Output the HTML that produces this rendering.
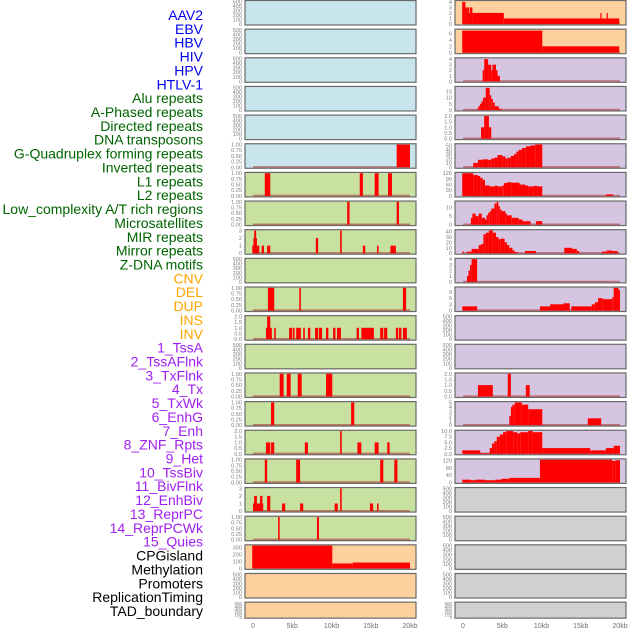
<!DOCTYPE html>
<html><head><meta charset="utf-8"><style>
html,body{margin:0;padding:0;background:#fff;}
svg{display:block;font-family:"Liberation Sans",sans-serif;}
</style></head><body>
<svg id="chart" width="630" height="630" viewBox="0 0 630 630" xmlns="http://www.w3.org/2000/svg"></svg>
<script>
// ---- data ----
const trackLabels = ["AAV2","EBV","HBV","HIV","HPV","HTLV-1","Alu repeats","A-Phased repeats","Directed repeats","DNA transposons","G-Quadruplex forming repeats","Inverted repeats","L1 repeats","L2 repeats","Low_complexity A/T rich regions","Microsatellites","MIR repeats","Mirror repeats","Z-DNA motifs","CNV","DEL","DUP","INS","INV","1_TssA","2_TssAFlnk","3_TxFlnk","4_Tx","5_TxWk","6_EnhG","7_Enh","8_ZNF_Rpts","9_Het","10_TssBiv","11_BivFlnk","12_EnhBiv","13_ReprPC","14_ReprPCWk","15_Quies","CPGisland","Methylation","Promoters","ReplicationTiming","TAD_boundary"];
const labelColors = ["#0000ee","#0000ee","#0000ee","#0000ee","#0000ee","#0000ee","#006400","#006400","#006400","#006400","#006400","#006400","#006400","#006400","#006400","#006400","#006400","#006400","#006400","#ffa500","#ffa500","#ffa500","#ffa500","#ffa500","#a020f0","#a020f0","#a020f0","#a020f0","#a020f0","#a020f0","#a020f0","#a020f0","#a020f0","#a020f0","#a020f0","#a020f0","#a020f0","#a020f0","#a020f0","#000","#000","#000","#000","#000"];
const xTicks = [0,5,10,15,20];
const xTickLabels = ["0","5kb","10kb","15kb","20kb"];

// left column segments [startKb, endKb, value]
const L5 = [[18.3,20.0,1]];
const L6 = [[1.5,2.2,1],[13.6,14.0,1],[15.5,16.0,1],[17.2,17.7,1]];
const L7 = [[12.0,12.3,1],[18.3,18.6,1]];
const L8 = [[-0.1,0.8,1],[0.05,0.5,2],[0.15,0.4,3],[1.1,1.4,1],[1.8,2.2,1],[8.0,8.3,2],[11.1,11.3,3],[14.0,14.3,1],[15.8,16.0,1],[17.5,18.2,1]];
const L10 = [[1.9,2.7,1],[5.9,6.1,1],[19.1,19.5,1]];
const L11 = [[1.65,2.4,1],[1.8,2.2,2],[2.7,2.9,1],[4.6,5.0,1],[5.1,5.3,1],[5.5,6.1,1],[6.4,6.6,1],[7.0,7.3,1],[7.9,8.3,1],[8.4,8.8,1],[9.3,9.6,1],[10.2,10.5,1],[10.7,11.2,1],[13.2,13.5,1],[13.8,15.4,1],[16.2,16.6,1],[16.7,17.1,1],[18.2,18.5,1],[18.6,18.9,1],[19.1,19.6,1]];
const L13 = [[3.4,3.9,1],[4.3,4.8,1],[5.7,6.2,1],[9.3,10.1,1]];
const L14 = [[2.3,2.7,1],[12.5,12.9,1]];
const L15 = [[1.65,2.2,1],[2.3,2.7,1],[6.6,7.0,1],[11.1,11.3,2],[13.3,13.8,1],[15.5,16.0,1],[17.1,17.4,1]];
const L16 = [[1.5,1.8,1],[5.5,6.0,1],[16.2,16.6,1],[18.0,18.4,1]];
const L17 = [[0,1.3,1],[0.15,0.5,2],[0.9,1.2,2],[1.8,2.2,2],[3.7,4.1,1],[6.0,6.4,1],[10.4,10.8,1],[11.1,11.3,3],[14.9,15.3,1],[15.8,16.0,1]];
const L18 = [[3.2,3.4,1],[8.15,8.4,1]];
const L19 = [[-0.1,10.1,325],[10.1,12.7,70],[12.7,20.0,83]];

// right column segments
const R0 = [[-0.1,0.3,4],[0.3,0.6,3],[0.6,0.9,2],[0.6,0.8,3],[0.9,1.2,3],[1.2,5.2,2],[5.2,19.9,1],[17.5,17.65,2],[18.3,18.45,2]];
const R1 = [[-0.1,10.1,7],[10.1,19.9,2]];
const R2 = [[2.5,2.7,2],[2.7,3.2,4],[3.2,3.6,3],[3.6,3.75,2],[3.75,4.2,3],[4.2,4.4,2],[4.4,4.7,1]];
const R3 = [[1.8,1.95,1],[1.95,2.15,3],[2.15,2.35,5],[2.35,2.55,7],[2.55,2.9,10],[2.9,3.4,18],[3.4,3.6,12],[3.6,3.8,9],[3.8,4.05,6],[4.05,4.55,3],[4.55,4.9,1]];
const R4 = [[2.3,2.7,1],[2.7,3.3,2],[3.3,3.6,1]];
const R5 = [[1.3,1.9,10],[1.9,2.5,17],[2.5,3.2,18],[3.2,3.6,17],[3.6,4.0,20],[4.0,4.4,22],[4.4,5.0,28],[5.0,5.4,25],[5.4,5.7,20],[5.7,6.1,22],[6.1,6.5,26],[6.5,6.8,30],[6.8,7.1,36],[7.1,7.5,40],[7.5,8.0,44],[8.0,8.6,48],[8.6,9.2,50],[9.2,10.1,52]];
const R6 = [[-0.1,1.3,120],[1.3,1.9,110],[1.9,2.2,105],[2.2,2.5,95],[2.5,2.8,85],[2.8,3.4,55],[3.4,4.0,50],[4.0,4.5,53],[4.5,5.0,50],[5.0,5.2,55],[5.2,5.6,68],[5.6,6.2,72],[6.2,7.2,70],[7.2,7.9,60],[7.9,8.3,55],[8.3,9.0,50],[9.0,9.5,53],[9.5,10.1,50],[18.2,19.1,8]];
const R7 = [[1.0,1.2,4],[1.2,1.6,6.5],[1.6,2.0,5],[2.0,2.4,6.5],[2.4,2.8,4],[2.8,3.0,3],[3.0,3.2,5.5],[3.2,3.4,7],[3.4,3.6,8],[3.6,4.0,9.5],[4.0,4.3,12.5],[4.3,4.5,13.5],[4.5,4.7,11],[4.7,4.9,9],[4.9,5.4,8],[5.4,5.6,6.5],[5.6,6.2,5.5],[6.2,7.1,4],[7.1,7.6,3],[7.6,8.6,2],[9.3,10.1,2]];
const R8 = [[-0.1,0.1,3],[0.5,1.1,3],[1.1,2.0,8],[2.0,2.3,15],[2.3,2.6,17],[2.6,2.9,35],[2.9,3.3,38],[3.3,3.8,42],[3.8,4.2,38],[4.2,4.5,30],[4.5,4.8,26],[4.8,5.3,27],[5.3,5.6,20],[5.6,5.9,15],[5.9,6.3,10],[6.3,6.6,5],[6.6,7.0,2],[7.9,9.3,4],[12.9,13.9,10],[13.9,14.5,8],[14.5,14.8,4],[17.7,18.3,3],[18.3,19.0,5],[19.0,19.7,4]];
const R9 = [[0.5,0.7,1],[0.7,0.9,2],[0.9,1.1,3],[1.1,1.8,4]];
const R10 = [[-0.1,1.8,2],[9.8,11.1,2],[11.1,12.8,3],[12.8,13.6,3.5],[13.8,16.4,2],[16.4,16.8,3],[16.8,17.2,4],[17.2,17.8,6],[17.8,19.0,5.5],[19.0,19.2,6.5],[19.2,19.8,11],[19.8,20.0,10]];
const R13 = [[1.9,3.8,1],[5.7,6.1,2],[8.0,8.5,1]];
const R14 = [[5.9,6.1,2],[6.1,6.3,4],[6.3,6.6,4.5],[6.6,7.5,5],[7.5,8.3,4.5],[8.3,10.1,3.5],[15.9,17.6,1.5]];
const R15 = [[-0.1,2.2,1.5],[2.2,3.4,0.3],[3.4,3.7,2.5],[3.7,4.0,4.5],[4.0,4.3,5.5],[4.3,4.7,7.5],[4.7,5.1,8.5],[5.1,5.5,9.5],[5.5,6.4,10],[6.4,6.9,9.5],[6.9,7.3,9],[7.3,8.3,9.5],[8.3,8.9,10],[8.9,10.1,9.5],[10.1,16.2,2.5],[16.2,18.2,1.5],[18.2,19.2,2.5],[19.2,20.0,3.5]];
const R16 = [[-0.1,1.0,15],[1.0,1.6,12],[1.6,2.8,15],[2.8,4.1,12],[4.1,4.9,15],[4.9,5.9,20],[5.9,9.8,25],[9.8,19.0,125],[19.0,19.4,118],[19.4,20.0,122]];

// ---- layout ----
const NS = "http://www.w3.org/2000/svg";
const svg = document.getElementById('chart');
const colX = [245, 455];
const panelW = 171;
const rowPitch = 28.65;
const panelH = 24.5;
const bgC = {b:"#c8e4ec", o:"#fdd09e", p:"#d5c5e1", g:"#c8e0a0", y:"#d0d0d0"};
const T5 = [0,100,200,300,400,500];
const TU = [0,0.25,0.5,0.75,1];
function empty(bg){return {bg:bg,ymax:500,ticks:T5,dec:0,seg:null};}
function P(bg,ymax,ticks,dec,seg){return {bg:bg,ymax:ymax,ticks:ticks,dec:dec,seg:seg};}
const left = [empty('b'),empty('b'),empty('b'),empty('b'),empty('b'),
  P('b',1,TU,2,L5), P('g',1,TU,2,L6), P('g',1,TU,2,L7), P('g',3,[0,1,2,3],0,L8), empty('g'),
  P('g',1,TU,2,L10), P('g',2,[0,0.5,1,1.5,2],1,L11), empty('g'), P('g',1,TU,2,L13), P('g',1,TU,2,L14),
  P('g',2,[0,0.5,1,1.5,2],1,L15), P('g',1,TU,2,L16), P('g',3,[0,1,2,3],0,L17), P('g',1,TU,2,L18),
  P('o',325,[0,100,200,300],0,L19), empty('o'), empty('o')];
const right = [P('o',4.1,[0,1,2,3,4],0,R0), P('o',7.2,[0,2,4,6],0,R1), P('p',4.1,[0,1,2,3,4],0,R2),
  P('p',18.5,[0,5,10,15],0,R3), P('p',2,[0,0.5,1,1.5,2],1,R4), P('p',52,[0,10,20,30,40,50],0,R5),
  P('p',120,[0,30,60,90,120],0,R6), P('p',13.5,[0,5,10],0,R7), P('p',42,[0,10,20,30,40],0,R8),
  P('p',4,[0,1,2,3,4],0,R9), P('p',11,[0,3,6,9],0,R10), empty('p'), empty('p'),
  P('p',2,[0,0.5,1,1.5,2],1,R13), P('p',5,[0,1,2,3,4,5],0,R14), P('p',10,[0,2.5,5,7.5,10],1,R15),
  P('p',125,[0,40,80,120],0,R16), empty('y'), empty('y'), empty('y'), empty('y'), empty('y')];

function mk(tag, attrs, parent){
  const e = document.createElementNS(NS, tag);
  for (const k in attrs) e.setAttribute(k, attrs[k]);
  (parent||svg).appendChild(e);
  return e;
}

// labels
trackLabels.forEach((t,i)=>{
  const e = mk('text',{x:203,y:15+13.86*i+5,'text-anchor':'end','font-size':'14',fill:labelColors[i]});
  
  
  e.textContent = t;
});

function drawPanel(cfg, col, row){
  const px = colX[col];
  const top = row*rowPitch + 0.5;
  const h = row===21 ? 16 : panelH;
  const bottom = top + h;
  const g = mk('g',{});
  
  
  const xs = kb => px + 8 + kb*7.85;
  const ys = v => bottom - 1 - v/cfg.ymax*(h-1.8);
  const r = mk('rect',{x:px,y:top,width:panelW,height:h,fill:bgC[cfg.bg],stroke:'#6a6a6a','stroke-width':1.2},g);
  
  
  cfg.ticks.forEach(v=>{
    const t = mk('text',{x:px-3,y:ys(v)+2,'text-anchor':'end','font-size':row===21?'4.5':'5.6',fill:'#808080'},g);
    
    
    t.textContent = cfg.dec ? v.toFixed(cfg.dec) : String(v);
  });
  if (cfg.seg){
    const bl = mk('line',{x1:xs(0),x2:xs(20),y1:ys(0)-0.3,y2:ys(0)-0.3,stroke:'rgba(170,40,40,0.55)','stroke-width':1.6},g);
    
    
    cfg.seg.forEach(s=>{
      const x1 = xs(s[0]), x2 = xs(s[1]);
      const y1 = ys(s[2]);
      const b = mk('rect',{x:x1,y:y1,width:Math.max(0.8,x2-x1),height:ys(0)-y1,fill:'#ff0000'},g);
      
      
    });
  }
}
left.forEach((c,i)=>drawPanel(c,0,i));
right.forEach((c,i)=>drawPanel(c,1,i));

[0,1].forEach(col=>{
  xTicks.forEach((v,i)=>{
    const t = mk('text',{x:colX[col]+8+v*7.85,y:628,'text-anchor':'middle','font-size':'7',fill:'#707070'});
    
    
    t.textContent = xTickLabels[i];
  });
});
</script>
</body></html>
